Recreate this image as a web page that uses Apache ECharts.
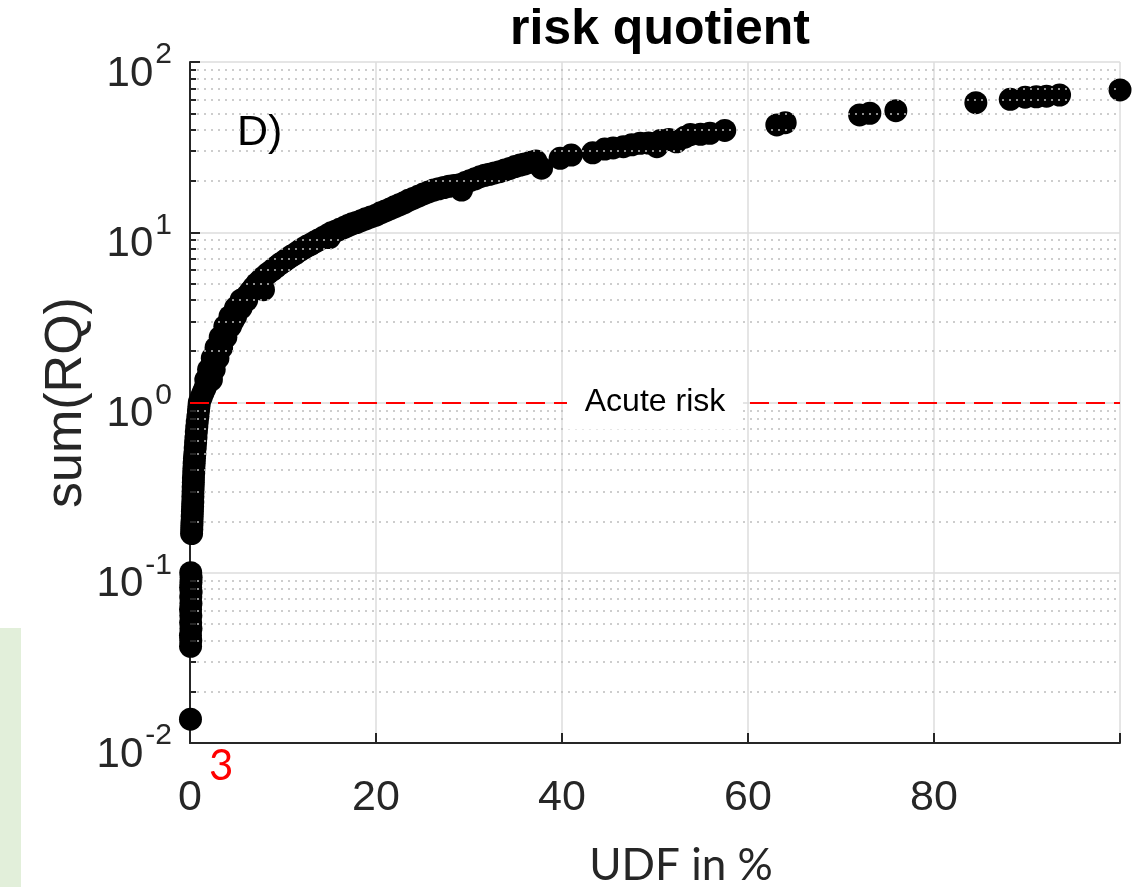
<!DOCTYPE html>
<html>
<head>
<meta charset="utf-8">
<script src="https://cdn.jsdelivr.net/npm/echarts@6/dist/echarts.min.js"></script>
<style>
  html, body { margin: 0; padding: 0; background: #fff; }
  #chart { width: 1141px; height: 887px; }
</style>
</head>
<body>
<div id="chart"></div>
<script>
// UDF in % (x) and sum(RQ) (y)
const udf = [
  0.05,
  0.06, 0.08, 0.05, 0.1, 0.07, 0.09, 0.06, 0.1, 0.08, 0.12, 0.07, 0.1, 0.12, 0.08,
  0.17, 0.19, 0.2, 0.22, 0.24, 0.26, 0.28, 0.3, 0.31, 0.33, 0.34, 0.36, 0.37, 0.4,
  0.42, 0.45, 0.48, 0.52, 0.56, 0.6, 0.64, 0.68, 0.73, 0.78, 0.85, 0.91, 0.96, 1.0,
  1.2, 1.4, 1.6, 1.8, 2.0, 2.15, 2.3, 2.5, 2.7, 2.87,
  3.1, 3.3, 3.55, 3.8, 4.05, 4.3, 4.6, 4.6, 4.9, 5.2, 5.5, 5.8,
  6.15, 6.5, 6.85, 7.2, 7.6, 7.9, 8.0, 8.4, 8.85,
  9.25, 9.65, 10.1, 10.5, 10.9, 11.35, 11.8, 12.2,
  12.6, 13.0, 13.4, 13.8, 14.3, 14.75, 15.0, 15.2,
  15.65, 16.1, 16.6, 17.0, 17.45, 17.9, 18.4, 18.9, 19.45, 20.0,
  20.5, 21.0, 21.5, 22.0, 22.5, 23.0, 23.5,
  24.0, 24.55, 25.1, 25.65, 26.2, 26.75, 27.3, 27.85, 28.4, 29.0, 29.2,
  29.6, 30.1, 30.65, 31.2, 31.7, 32.2, 32.75, 33.3,
  33.85, 34.4, 34.95, 35.5, 36.0, 36.6, 37.2, 37.8,
  39.8, 41.0, 43.3, 44.6, 45.5, 46.6, 47.5, 48.4, 49.3, 50.2, 50.6, 51.5, 52.3,
  53.2, 53.8, 54.9, 55.9, 57.5,
  63.1, 64.0, 72.0, 73.1, 75.9, 84.5, 88.2, 89.8, 91.0, 92.1, 93.5, 100,
  // scatter either side of the steep part of the band
  1.7, 2.0, 2.4, 2.8, 3.25, 3.75, 4.3, 4.9, 5.5,
  2.3, 2.6, 3.0, 3.4, 3.85, 4.35, 4.9, 5.5, 6.1
];
const rq = [
  0.0138,
  0.037, 0.040, 0.043, 0.047, 0.051, 0.056, 0.061, 0.066, 0.072, 0.077, 0.082, 0.088, 0.094, 0.1,
  0.17, 0.18, 0.19, 0.2, 0.215, 0.23, 0.245, 0.26, 0.28, 0.3, 0.32, 0.34, 0.36, 0.385,
  0.41, 0.44, 0.47, 0.5, 0.54, 0.58, 0.62, 0.67, 0.72, 0.77, 0.83, 0.89, 0.95, 1.0,
  1.07, 1.14, 1.21, 1.28, 1.36, 1.46, 1.56, 1.68, 1.82, 1.95,
  2.1, 2.25, 2.42, 2.6, 2.8, 2.99, 3.0, 3.2, 3.4, 3.6, 3.8, 4.0,
  4.25, 4.5, 4.75, 5.0, 5.25, 4.6, 5.5, 5.75, 6.0,
  6.25, 6.5, 6.75, 7.0, 7.25, 7.5, 7.8, 8.05,
  8.3, 8.5, 8.75, 9.0, 9.3, 9.6, 9.3, 9.94,
  10.15, 10.4, 10.7, 10.95, 11.2, 11.4, 11.7, 12.0, 12.3, 12.6,
  13.0, 13.35, 13.7, 14.1, 14.5, 14.9, 15.4,
  15.8, 16.3, 16.8, 17.25, 17.7, 18.0, 18.3, 18.6, 18.8, 19.0, 17.7,
  19.6, 20.1, 20.6, 21.2, 21.6, 21.9, 22.3, 22.7,
  23.2, 23.7, 24.3, 24.8, 25.2, 25.8, 26.2, 23.8,
  27.2, 28.4, 29.3, 30.8, 31.3, 31.8, 32.6, 33.3, 33.4, 31.8, 34.6, 35.0, 34.0,
  36.2, 37.5, 37.6, 38.1, 39.6,
  42.7, 44.0, 48.9, 50.0, 51.8, 57.7, 60.4, 62.1, 62.5, 63.0, 64.0, 68.5,
  1.36, 1.56, 1.82, 2.1, 2.42, 2.8, 3.2, 3.6, 4.0,
  1.36, 1.56, 1.82, 2.1, 2.42, 2.8, 3.2, 3.6, 4.0
];

const xTicks = [0, 20, 40, 60, 80, 100];
const xTickLabels = ['0', '20', '40', '60', '80', ''];
const yTicks = [0.01, 0.1, 1, 10, 100];
const yTickExp = ['-2', '-1', '0', '1', '2'];
// minor decade lines of the log axis
const minorY = [
  0.02, 0.03, 0.04, 0.05, 0.06, 0.07, 0.08, 0.09,
  0.2, 0.3, 0.4, 0.5, 0.6, 0.7, 0.8, 0.9,
  2, 3, 4, 5, 6, 7, 8, 9,
  20, 30, 40, 50, 60, 70, 80, 90
];
const acuteRisk = 1;
const markerX = 1.26;      // red vertical marker
const markerY = [0.0088, 1.18];

const FONT = '"Liberation Sans", Arial, sans-serif';
const AX = '#262626';

const chart = echarts.init(document.getElementById('chart'), null, { renderer: 'canvas' });

const points = udf.map((x, i) => [x, rq[i]]);

const option = {
  backgroundColor: '#fff',
  animation: false,
  title: {
    text: 'risk quotient',
    left: 655,
    top: 0,
    textAlign: 'center',
    textStyle: { fontFamily: FONT, fontSize: 50, fontWeight: 'bold', color: '#000' }
  },
  grid: { left: 190, right: 21, top: 62, bottom: 144 },
  xAxis: {
    type: 'value',
    min: 0,
    max: 100,
    interval: 20,
    axisLine: { onZero: false, lineStyle: { color: AX, width: 2 } },
    axisTick: { inside: true, length: 10, lineStyle: { color: AX, width: 2 } },
    axisLabel: {
      margin: 34,
      fontFamily: FONT,
      fontSize: 43,
      color: AX,
      formatter: v => xTickLabels[xTicks.indexOf(v)]
    },
    splitLine: { show: true, lineStyle: { color: '#dcdcdc', width: 1.5 } }
  },
  yAxis: {
    type: 'log',
    logBase: 10,
    min: 0.01,
    max: 100,
    name: 'sum(RQ)',
    nameLocation: 'middle',
    nameGap: 97,
    nameTextStyle: { fontFamily: FONT, fontSize: 52, color: AX },
    axisLine: { lineStyle: { color: AX, width: 2 } },
    axisTick: { inside: true, length: 10, lineStyle: { color: AX, width: 2 } },
    axisLabel: { show: false },
    splitLine: { show: true, lineStyle: { color: '#dcdcdc', width: 1.5 } }
  },
  series: [
    {
      // minor grid + minor ticks
      type: 'scatter',
      data: [],
      silent: true,
      z: 1,
      markLine: {
        silent: true,
        symbol: 'none',
        animation: false,
        label: { show: false },
        lineStyle: { color: '#bdbdbd', type: [2, 5], width: 1.5 },
        data: minorY.map(v => ({ yAxis: v }))
          .concat(minorY.map(v => [
            { coord: [0, v], lineStyle: { color: AX, type: 'solid', width: 2 } },
            { coord: [0.65, v] }
          ]))
      }
    },
    {
      name: 'sum(RQ)',
      type: 'scatter',
      data: points,
      symbol: 'circle',
      symbolSize: 23,
      clip: false,
      z: 3,
      itemStyle: { color: '#000', opacity: 1 }
    },
    {
      // red acute-risk line and marker
      type: 'scatter',
      data: [],
      silent: true,
      z: 5,
      markLine: {
        silent: true,
        symbol: 'none',
        animation: false,
        label: { show: false },
        data: [
          { yAxis: acuteRisk, lineStyle: { color: '#ff0000', type: [19, 9], width: 2 } },
          [
            { coord: [markerX, markerY[0]], lineStyle: { color: '#ff0000', type: 'solid', width: 1.5 } },
            { coord: [markerX, markerY[1]] }
          ]
        ]
      },
      markPoint: {
        silent: true,
        animation: false,
        symbol: 'rect',
        symbolSize: [176, 54],
        itemStyle: { color: '#fff' },
        label: {
          show: true,
          position: 'inside',
          formatter: 'Acute risk',
          fontFamily: FONT,
          fontSize: 32,
          color: '#000'
        },
        data: [{ coord: [50, acuteRisk] }]
      }
    }
  ]
};

chart.setOption(option);

// y tick labels 10^n, placed through the axis scale
const ctx = document.createElement('canvas').getContext('2d');
ctx.font = '30px "Liberation Sans"';
const labelRight = 172;
const yLabels = [];
yTicks.forEach((v, i) => {
  const py = chart.convertToPixel({ yAxisIndex: 0 }, v);
  const expW = ctx.measureText(yTickExp[i]).width;
  yLabels.push({
    type: 'text', silent: true,
    x: labelRight - expW, y: py - 7,
    style: { text: yTickExp[i], font: '30px ' + FONT, fill: AX, textVerticalAlign: 'middle' }
  });
  yLabels.push({
    type: 'text', silent: true,
    x: labelRight - expW - 2, y: py + 12,
    style: { text: '10', font: '42px ' + FONT, fill: AX, textAlign: 'right', textVerticalAlign: 'middle' }
  });
});

chart.setOption({
  graphic: [
    {
      type: 'rect',
      left: 0,
      top: 628,
      shape: { width: 21, height: 259 },
      style: { fill: '#e2efda' },
      silent: true
    },
    {
      type: 'text',
      x: 237,
      y: 133,
      style: { text: 'D)', font: '43px ' + FONT, fill: '#000', textVerticalAlign: 'middle' },
      silent: true
    },
    {
      type: 'text',
      x: 209,
      y: 766,
      style: { text: '3', font: '42px Lato, "Open Sans", sans-serif', fill: '#ff0000', textVerticalAlign: 'middle' },
      silent: true
    },
    {
      type: 'text',
      x: 681,
      y: 866,
      style: { text: 'UDF in %', font: '44px Lato, "Open Sans", sans-serif', fill: '#262626', textAlign: 'center', textVerticalAlign: 'middle' },
      silent: true
    }
  ].concat(yLabels)
});
window.addEventListener('resize', () => chart.resize());
</script>
</body>
</html>
